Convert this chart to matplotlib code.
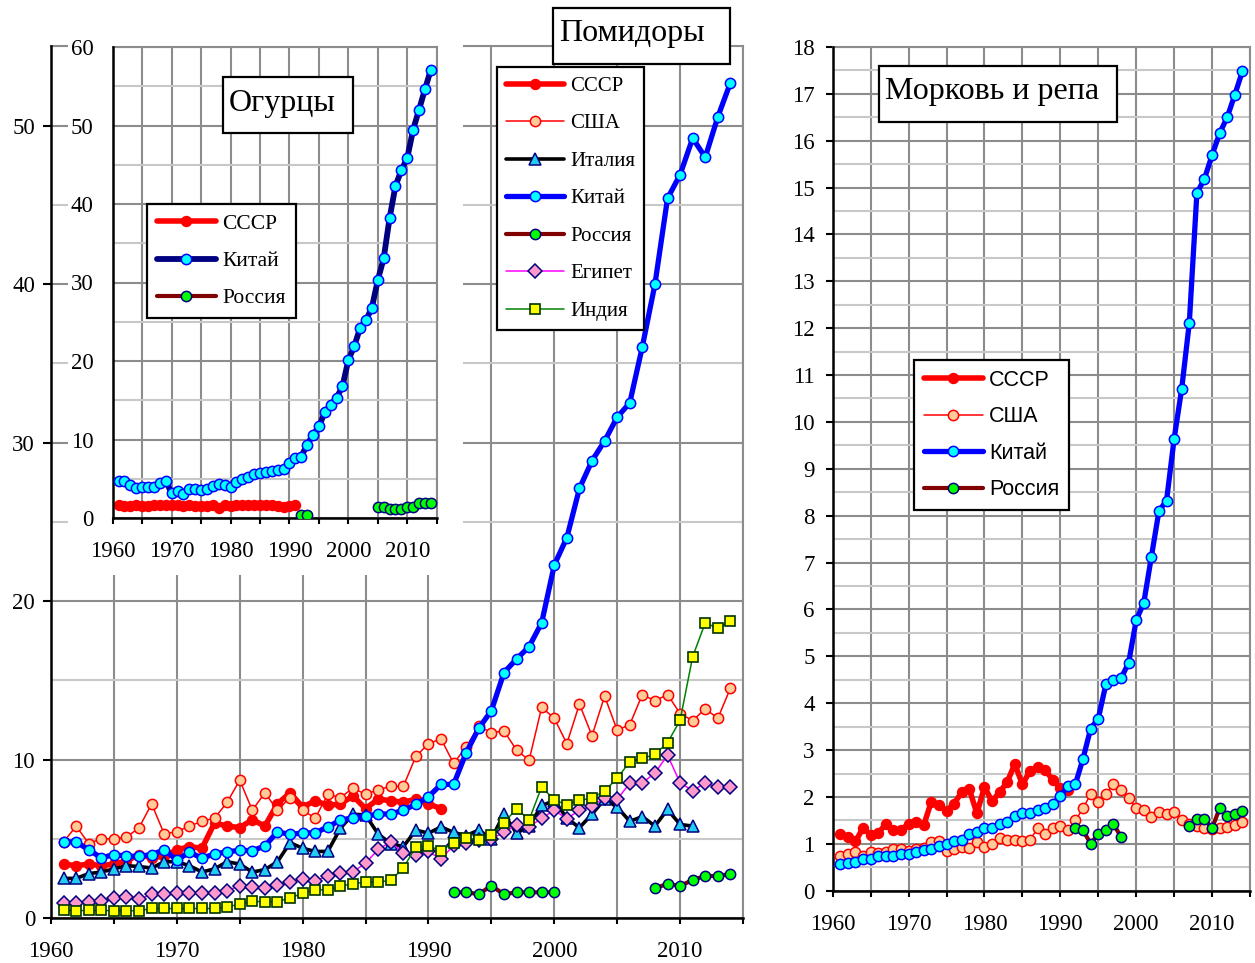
import numpy as np
import matplotlib
matplotlib.use('Agg')
import matplotlib.pyplot as plt
from matplotlib.patches import Rectangle
from matplotlib.ticker import MultipleLocator

plt.rcParams['font.family'] = ['Liberation Serif', 'DejaVu Serif']

# ---------------- DATA ----------------
# Помидоры (tomatoes), million tonnes
tom_years_ussr = list(range(1961, 1992))
tom_ussr = [3.4, 3.3, 3.4, 3.3, 3.4, 3.6, 4.0, 3.8, 3.9, 4.3,
            4.5, 4.4, 6.0, 5.8, 5.7, 6.2, 5.8, 7.2, 7.9, 7.0,
            7.4, 7.1, 7.2, 7.7, 6.9, 7.5, 7.4, 7.3, 7.5, 7.2,
            6.9]
tom_years_usa = list(range(1961, 2015))
tom_usa = [4.8, 5.8, 4.7, 5.0, 5.0, 5.1, 5.7, 7.2, 5.3, 5.45,
           5.8, 6.1, 6.3, 7.3, 8.7, 6.8, 7.9, 6.8, 7.6, 6.8,
           6.3, 7.8, 7.6, 8.2, 7.8, 8.1, 8.3, 8.3, 10.2, 11.0,
           11.3, 9.75, 10.8, 12.1, 11.7, 11.8, 10.6, 9.95, 13.3, 12.6,
           11.0, 13.5, 11.5, 14.0, 11.85, 12.2, 14.1, 13.7, 14.1, 12.9,
           12.45, 13.2, 12.6, 14.5]
tom_years_italy = list(range(1961, 2012))
tom_italy = [2.5, 2.5, 2.8, 2.9, 3.1, 3.3, 3.25, 3.15, 3.55, 3.55,
             3.3, 2.9, 3.1, 3.55, 3.4, 2.9, 3.05, 3.55, 4.75, 4.4,
             4.2, 4.2, 5.66, 6.55, 6.5, 5.3, 4.7, 4.5, 5.55, 5.35,
             5.75, 5.4, 5.2, 5.55, 5.0, 6.55, 5.35, 5.8, 7.1, 7.4,
             6.3, 5.7, 6.55, 7.5, 7.0, 6.1, 6.4, 5.8, 6.85, 5.9,
             5.8]
tom_years_china = list(range(1961, 2015))
tom_china = [4.8, 4.8, 4.3, 3.8, 4.0, 3.9, 3.9, 4.0, 4.3, 3.66,
             4.15, 3.78, 4.04, 4.18, 4.27, 4.25, 4.54, 5.44, 5.27, 5.37,
             5.37, 5.75, 6.17, 6.33, 6.42, 6.56, 6.56, 6.8, 7.17, 7.65,
             8.43, 8.43, 10.43, 11.97, 13.08, 15.48, 16.34, 17.12, 18.63, 22.27,
             24.0, 27.1, 28.85, 30.1, 31.6, 32.5, 36.05, 39.98, 45.4, 46.9,
             49.2, 48.0, 50.55, 52.7]
tom_years_russia = list(range(1992, 2015))
tom_russia = [1.62, 1.62, 1.51, 2.03, 1.5, 1.62, 1.62, 1.62, 1.62,
              None, None, None, None, None, None, None,
              1.87, 2.16, 2.02, 2.4, 2.65, 2.65, 2.78]
tom_years_egypt = list(range(1961, 2015))
tom_egypt = [0.93, 0.97, 1.03, 1.09, 1.24, 1.3, 1.17, 1.51, 1.51, 1.55,
             1.6, 1.6, 1.6, 1.72, 2.05, 1.95, 1.88, 2.08, 2.29, 2.44,
             2.33, 2.65, 2.82, 2.92, 3.45, 4.33, 4.8, 4.1, 4.0, 4.2,
             3.7, 4.6, 4.75, 4.9, 5.0, 5.4, 5.87, 5.76, 6.29, 6.8,
             6.27, 6.8, 7.05, 7.6, 7.49, 8.5, 8.53, 9.14, 10.28, 8.53,
             8.03, 8.53, 8.24, 8.24]
tom_years_india = list(range(1961, 2015))
tom_india = [0.5, 0.46, 0.48, 0.48, 0.46, 0.46, 0.46, 0.6, 0.6, 0.6,
             0.6, 0.6, 0.6, 0.7, 0.88, 1.05, 1.03, 1.03, 1.27, 1.55,
             1.78, 1.77, 2.0, 2.17, 2.26, 2.26, 2.38, 3.15, 4.5, 4.54,
             4.25, 4.75, 5.05, 4.92, 5.25, 6.0, 6.9, 6.19, 8.28, 7.44,
             7.15, 7.44, 7.55, 8.03, 8.81, 9.86, 10.07, 10.32, 11.06, 12.47,
             16.49, 18.63, 18.27, 18.76]

# Огурцы (cucumbers)
cuc_years_ussr = list(range(1961, 1992))
cuc_ussr = [1.7, 1.5, 1.5, 1.6, 1.5, 1.5, 1.6, 1.6, 1.6, 1.6,
            1.6, 1.5, 1.6, 1.5, 1.5, 1.5, 1.6, 1.3, 1.6, 1.5,
            1.6, 1.6, 1.6, 1.6, 1.6, 1.6, 1.6, 1.5, 1.4, 1.5,
            1.7]
cuc_years_china = list(range(1961, 2015))
cuc_china = [4.73, 4.73, 4.21, 3.79, 3.97, 3.97, 4.0, 4.5, 4.77, 3.15,
             3.5, 3.06, 3.65, 3.65, 3.6, 3.65, 4.08, 4.3, 4.21, 3.92,
             4.64, 4.94, 5.28, 5.62, 5.7, 5.8, 6.05, 6.1, 6.3, 7.06,
             7.62, 7.83, 9.32, 10.6, 11.66, 13.45, 14.43, 15.3, 16.77, 20.09,
             21.88, 24.2, 25.2, 26.8, 30.3, 33.08, 38.19, 42.3, 44.3, 45.85,
             49.47, 52.0, 54.6, 57.1]
cuc_years_russia = list(range(1992, 2015))
cuc_russia = [0.38, 0.38,
              None, None, None, None, None, None, None, None, None, None, None,
              1.45, 1.4, 1.15, 1.1, 1.15, 1.4, 1.45, 1.9, 1.9, 1.9]

# Морковь и репа (carrots and turnips)
car_years_ussr = list(range(1961, 1992))
car_ussr = [1.21, 1.14, 1.05, 1.34, 1.19, 1.23, 1.42, 1.29, 1.29, 1.43,
            1.47, 1.4, 1.9, 1.82, 1.7, 1.86, 2.1, 2.17, 1.65, 2.21,
            1.91, 2.1, 2.32, 2.7, 2.27, 2.55, 2.63, 2.58, 2.36, 2.19,
            2.14]
car_years_usa = list(range(1961, 2015))
car_usa = [0.74, 0.78, 0.83, 0.73, 0.83, 0.8, 0.83, 0.88, 0.88, 0.85,
           0.9, 0.92, 1.04, 1.06, 0.85, 0.9, 0.94, 0.92, 1.04, 0.94,
           1.0, 1.13, 1.09, 1.08, 1.05, 1.08, 1.33, 1.2, 1.34, 1.38,
           1.29, 1.5, 1.76, 2.06, 1.9, 2.06, 2.28, 2.15, 1.97, 1.76,
           1.72, 1.58, 1.68, 1.64, 1.68, 1.51, 1.43, 1.37, 1.33, 1.32,
           1.33, 1.36, 1.41, 1.47]
car_years_china = list(range(1961, 2015))
car_china = [0.56, 0.6, 0.62, 0.67, 0.67, 0.74, 0.74, 0.74, 0.78, 0.78,
             0.83, 0.87, 0.9, 0.95, 0.99, 1.05, 1.08, 1.22, 1.26, 1.33,
             1.33, 1.42, 1.47, 1.59, 1.65, 1.65, 1.72, 1.76, 1.85, 2.02,
             2.23, 2.28, 2.82, 3.46, 3.67, 4.4, 4.49, 4.53, 4.86, 5.77,
             6.14, 7.12, 8.1, 8.32, 9.64, 10.71, 12.11, 14.88, 15.19, 15.69,
             16.16, 16.5, 16.98, 17.48]
car_years_russia = list(range(1992, 2015))
car_russia = [1.33, 1.29, 1.0, 1.21, 1.29, 1.42, 1.15,
              None, None, None, None, None, None, None, None,
              1.38, 1.54, 1.54, 1.33, 1.76, 1.6, 1.64, 1.69]

x_ticks_major = [1960, 1970, 1980, 1990, 2000, 2010]

# ---------------- LAYOUT ----------------
W, H = 1255, 963
fig = plt.figure(figsize=(W / 100, H / 100), dpi=100)
fig.patch.set_facecolor('white')


def rect(l, t, r, b):
    return [l / W, 1 - b / H, (r - l) / W, (b - t) / H]


def fpt(x, y):
    return (x / W, 1 - y / H)


GRID_MAJ = '#8C8C8C'
GRID_MIN = '#C8C8C8'
NAVY = '#000080'


def style(ax, ylim, ymaj, ymin, ylen, ypad, xlen=4.5, xpad=12):
    ax.set_xlim(1960, 2015)
    ax.set_ylim(*ylim)
    ax.set_xticks(x_ticks_major)
    ax.xaxis.set_minor_locator(MultipleLocator(5))
    ax.yaxis.set_major_locator(MultipleLocator(ymaj))
    ax.yaxis.set_minor_locator(MultipleLocator(ymin))
    ax.grid(which='major', axis='y', color=GRID_MAJ, lw=1.5)
    ax.grid(which='minor', axis='y', color=GRID_MIN, lw=1.5)
    ax.grid(which='both', axis='x', color=GRID_MAJ, lw=1.5)
    ax.set_axisbelow(True)
    for s in ('left', 'bottom'):
        ax.spines[s].set_color('black')
        ax.spines[s].set_linewidth(1.8)
        ax.spines[s].set_zorder(3)
    for s in ('top', 'right'):
        ax.spines[s].set_color(GRID_MAJ)
        ax.spines[s].set_linewidth(1.5)
    ax.tick_params(axis='x', which='both', direction='out', length=xlen,
                   width=1.5, pad=xpad, labelsize=16.5, colors='black')
    ax.tick_params(axis='y', which='major', direction='out', length=ylen,
                   width=1.5, pad=ypad, labelsize=16.5, colors='black')
    ax.tick_params(axis='y', which='minor', length=0)
    ax.set_facecolor('white')


def series(ax, years, vals, color, lw, marker, ms, mfc, mec, mew, label, z):
    y = np.array([np.nan if v is None else v for v in vals], dtype=float)
    line, = ax.plot(years, y, color=color, lw=lw, marker=marker, ms=ms,
                    mfc=mfc, mec=mec, mew=mew, label=label, zorder=z,
                    solid_joinstyle='round', solid_capstyle='round')
    return line


def make_legend(ax, x, y, family, size, spacing):
    leg = ax.legend(loc='upper left', bbox_to_anchor=fpt(x, y),
                    bbox_transform=fig.transFigure, borderaxespad=0,
                    frameon=True, fancybox=False, framealpha=1,
                    edgecolor='black', facecolor='white', numpoints=1,
                    handlelength=2.75, handletextpad=0.3,
                    labelspacing=spacing, borderpad=0.45,
                    prop={'family': family, 'size': size})
    leg.get_frame().set_linewidth(1.6)
    leg.set_zorder(20)
    return leg


def title_box(l, t, r, b, text, size):
    fig.add_artist(Rectangle((l / W, 1 - b / H), (r - l) / W, (b - t) / H,
                             transform=fig.transFigure, facecolor='white',
                             edgecolor='black', lw=1.6, zorder=30))
    fig.text((l + 6) / W, 1 - ((t + b) / 2 - 2) / H, text, fontsize=size,
             ha='left', va='center', zorder=31,
             family=['Liberation Serif', 'DejaVu Serif'])


# ---------- Main: tomatoes ----------
ax = fig.add_axes(rect(51, 46.3, 743, 918))
style(ax, (0, 55), 10, 5, ylen=6, ypad=5.5)
ax.set_zorder(0)
series(ax, tom_years_ussr, tom_ussr, '#FF0000', 4.0, 'o', 7.2, '#FF0000', '#FF0000', 1.0, 'СССР', 3)
series(ax, tom_years_usa, tom_usa, '#FF0000', 1.1, 'o', 7.4, '#FFCC99', '#FF0000', 1.1, 'США', 4)
series(ax, tom_years_italy, tom_italy, '#000000', 2.6, '^', 8.5, '#22CCEE', NAVY, 1.1, 'Италия', 5)
series(ax, tom_years_china, tom_china, '#0000FF', 3.8, 'o', 7.4, '#00FFFF', '#0000FF', 1.1, 'Китай', 6)
series(ax, tom_years_russia, tom_russia, '#800000', 3.0, 'o', 7.4, '#00FF00', NAVY, 1.1, 'Россия', 7)
series(ax, tom_years_egypt, tom_egypt, '#FF00FF', 1.1, 'D', 6.8, '#FF99CC', NAVY, 1.1, 'Египет', 8)
series(ax, tom_years_india, tom_india, '#008000', 1.1, 's', 7.0, '#FFFF00', '#003300', 1.2, 'Индия', 9)
make_legend(ax, 497, 67, ['Liberation Serif', 'DejaVu Serif'], 15, 0.86)

# cover for the inset area
cover = fig.add_axes(rect(68, 0, 463, 575))
cover.set_xticks([])
cover.set_yticks([])
for s in cover.spines.values():
    s.set_visible(False)
cover.set_facecolor('white')
cover.set_zorder(1)

# ---------- Inset: cucumbers ----------
axi = fig.add_axes(rect(112.7, 47, 436.7, 518))
style(axi, (0, 60), 10, 5, ylen=0, ypad=14)
axi.set_zorder(2)
series(axi, cuc_years_ussr, cuc_ussr, '#FF0000', 4.0, 'o', 7.2, '#FF0000', '#FF0000', 1.0, 'СССР', 3)
series(axi, cuc_years_china, cuc_china, '#000080', 4.2, 'o', 7.4, '#00FFFF', '#0000FF', 1.1, 'Китай', 4)
series(axi, cuc_years_russia, cuc_russia, '#800000', 3.0, 'o', 7.4, '#00FF00', NAVY, 1.1, 'Россия', 5)
make_legend(axi, 147, 204, ['Liberation Serif', 'DejaVu Serif'], 15.5, 0.8)

# ---------- Right: carrots ----------
axc = fig.add_axes(rect(832.7, 46.9, 1250, 890.7))
style(axc, (0, 18), 1, 0.5, ylen=5, ypad=8)
series(axc, car_years_ussr, car_ussr, '#FF0000', 4.0, 'o', 7.2, '#FF0000', '#FF0000', 1.0, 'СССР', 3)
series(axc, car_years_usa, car_usa, '#FF0000', 1.1, 'o', 7.4, '#FFCC99', '#FF0000', 1.1, 'США', 4)
series(axc, car_years_china, car_china, '#0000FF', 3.8, 'o', 7.4, '#00FFFF', '#0000FF', 1.1, 'Китай', 5)
series(axc, car_years_russia, car_russia, '#800000', 3.0, 'o', 7.4, '#00FF00', NAVY, 1.1, 'Россия', 6)
make_legend(axc, 914, 360, ['Liberation Sans', 'DejaVu Sans'], 15.5, 0.72)

# ---------- Title boxes ----------
title_box(553, 8, 730, 64, 'Помидоры', 23)
title_box(223, 77, 353, 133, 'Огурцы', 23)
title_box(879, 66, 1117, 122, 'Морковь и репа', 23)

fig.savefig('out.png', dpi=100, facecolor='white')
